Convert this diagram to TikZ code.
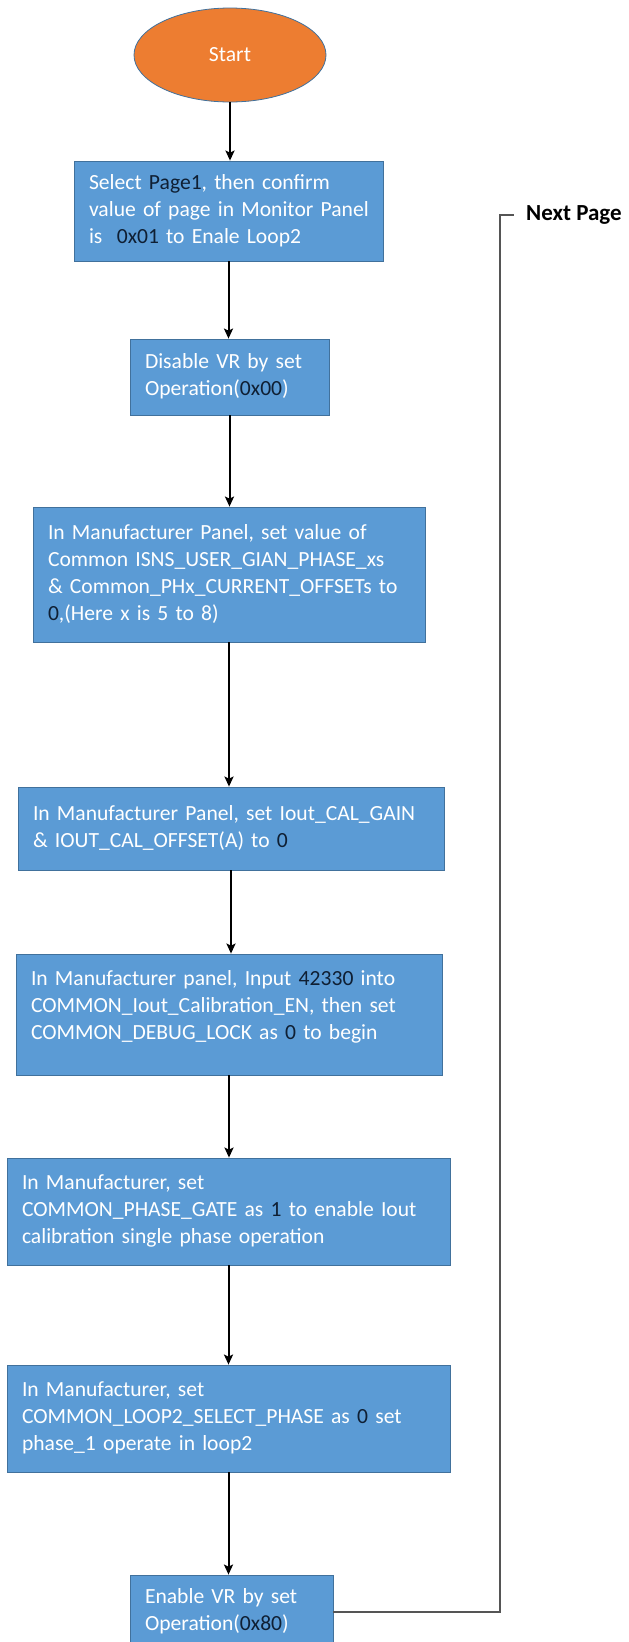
\documentclass[tikz,border=0pt]{standalone}
\usepackage{fontspec}
\setmainfont{Carlito}
\usetikzlibrary{shapes.geometric,arrows.meta}
\definecolor{boxfill}{HTML}{5B9BD5}
\definecolor{boxline}{HTML}{41719C}
\definecolor{startfill}{HTML}{ED7D31}
\definecolor{hl}{HTML}{0F1F33}
\definecolor{connline}{HTML}{555555}
\newcommand\boxfont{\fontsize{21.6}{27}\selectfont}
\newcommand\hlt[1]{\textcolor{hl}{#1}}
\newcommand\tl[1]{\begin{tabular}{@{}l@{}}#1\end{tabular}}
\tikzset{
  stepbox/.style={rectangle, draw=boxline, fill=boxfill, line width=0.8pt,
    text=white, font=\boxfont, align=left, inner xsep=15pt, inner ysep=0pt},
  flow/.style={line width=2pt, black, -{Stealth[length=10pt,width=9pt,inset=2pt]}},
  conn/.style={line width=1.5pt, connline},
}
\begin{document}
\begin{tikzpicture}[x=1pt,y=-1pt]
\clip (0,0) rectangle (629,1642);
\fill[white] (0,0) rectangle (629,1642);

\node[ellipse, draw=boxline, fill=startfill, line width=0.8pt, minimum width=192pt,
  minimum height=94pt, inner sep=0pt, text=white, font=\boxfont] (start) at (230,55) {Start};

\node[stepbox, minimum width=309pt, minimum height=100pt, text width=279pt] (b1) at (228.5,211)
  {\tl{Select \hlt{Page1}, then confirm\\ value of page in Monitor Panel\\ is \ \hlt{0x01} to Enale Loop2}};

\node[stepbox, minimum width=199pt, minimum height=76pt, text width=169pt] (b2) at (229.5,377)
  {\tl{Disable VR by set\\ Operation(\hlt{0x00})}};

\node[stepbox, minimum width=392pt, minimum height=135pt, text width=362pt] (b3) at (229,574.5)
  {\tl{In Manufacturer Panel, set value of\\ Common ISNS\_USER\_GIAN\_PHASE\_xs\\ \& Common\_PHx\_CURRENT\_OFFSETs to\\ \hlt{0},(Here x is 5 to 8)}};

\node[stepbox, minimum width=426pt, minimum height=83pt, text width=396pt] (b4) at (231,828.5)
  {\tl{In Manufacturer Panel, set Iout\_CAL\_GAIN\\ \& IOUT\_CAL\_OFFSET(A) to \hlt{0}}};

\node[stepbox, minimum width=426pt, minimum height=121pt, text width=396pt] (b5) at (229,1014.5)
  {\tl{In Manufacturer panel, Input \hlt{42330} into\\ COMMON\_Iout\_Calibration\_EN, then set\\ COMMON\_DEBUG\_LOCK as \hlt{0} to begin\\[-12pt] \mbox{}}};

\node[stepbox, minimum width=443pt, minimum height=107pt, text width=413pt] (b6) at (228.5,1211.5)
  {\tl{In Manufacturer, set\\ COMMON\_PHASE\_GATE as \hlt{1} to enable Iout\\ calibration single phase operation}};

\node[stepbox, minimum width=443pt, minimum height=107pt, text width=413pt] (b7) at (228.5,1418.5)
  {\tl{In Manufacturer, set\\ COMMON\_LOOP2\_SELECT\_PHASE as \hlt{0} set\\ phase\_1 operate in loop2}};

\node[stepbox, minimum width=203pt, minimum height=74pt, text width=173pt] (b8) at (231.5,1612)
  {\tl{Enable VR by set\\ Operation(\hlt{0x80})}};

\node[anchor=west, inner xsep=12pt, inner ysep=0pt, font=\fontsize{23}{27}\selectfont\bfseries, text=black] (np) at (514,215) {Next Page};
\coordinate (corner) at (500,215);

\draw[flow] (start.south) -- (start.south |- b1.north);
\draw[flow] (b1.south) -- (b1.south |- b2.north);
\draw[flow] (b2.south) -- (b2.south |- b3.north);
\draw[flow] (b3.south) -- (b3.south |- b4.north);
\draw[flow] (b4.south) -- (b4.south |- b5.north);
\draw[flow] (b5.south) -- (b5.south |- b6.north);
\draw[flow] (b6.south) -- (b6.south |- b7.north);
\draw[flow] (b7.south) -- (b7.south |- b8.north);

\draw[conn] (b8.east) -| (corner) -- (np.west);
\end{tikzpicture}
\end{document}
